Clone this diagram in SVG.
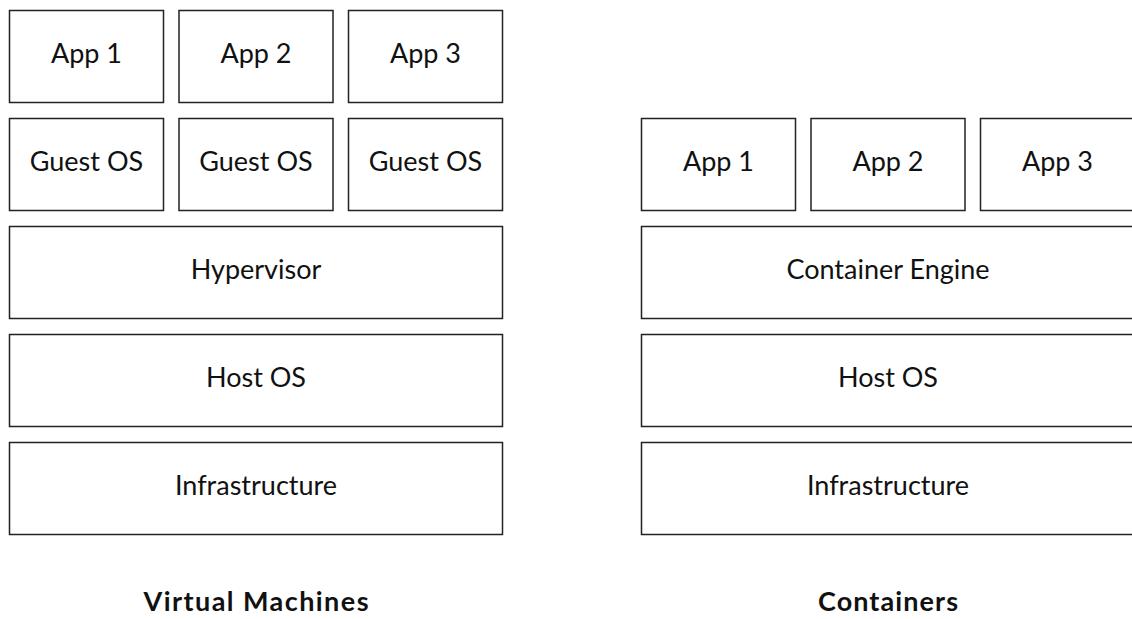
<svg xmlns="http://www.w3.org/2000/svg" width="1132" height="619" viewBox="0 0 1132 619">
<style>
rect{fill:#fff;stroke:#222;stroke-width:1.5}
text{font-family:Lato,"DejaVu Sans",sans-serif;font-size:27px;fill:#111;text-anchor:middle}
.t{font-weight:bold;font-size:27px}
</style>
<rect x="0" y="0" width="1132" height="619" style="fill:#fff;stroke:none"/>
<g id="vm-app1"><rect x="9.5" y="10.5" width="154" height="92"/><text x="86.5" y="63">App 1</text></g>
<g id="vm-app2"><rect x="179" y="10.5" width="154" height="92"/><text x="256" y="63">App 2</text></g>
<g id="vm-app3"><rect x="348.5" y="10.5" width="154" height="92"/><text x="425.5" y="63">App 3</text></g>
<g id="vm-guest1"><rect x="9.5" y="118.5" width="154" height="92"/><text x="86.5" y="171">Guest OS</text></g>
<g id="vm-guest2"><rect x="179" y="118.5" width="154" height="92"/><text x="256" y="171">Guest OS</text></g>
<g id="vm-guest3"><rect x="348.5" y="118.5" width="154" height="92"/><text x="425.5" y="171">Guest OS</text></g>
<g id="vm-hypervisor"><rect x="9.5" y="226.5" width="493" height="92"/><text x="256" y="279">Hypervisor</text></g>
<g id="vm-hostos"><rect x="9.5" y="334.5" width="493" height="92"/><text x="256" y="387">Host OS</text></g>
<g id="vm-infra"><rect x="9.5" y="442.5" width="493" height="92"/><text x="256" y="495">Infrastructure</text></g>
<g id="vm-title"><text class="t" x="256" y="611" textLength="225" lengthAdjust="spacing">Virtual Machines</text></g>
<g id="c-app1"><rect x="641.5" y="118.5" width="154" height="92"/><text x="718.5" y="171">App 1</text></g>
<g id="c-app2"><rect x="811" y="118.5" width="154" height="92"/><text x="888" y="171">App 2</text></g>
<g id="c-app3"><rect x="980.5" y="118.5" width="154" height="92"/><text x="1057.5" y="171">App 3</text></g>
<g id="c-engine"><rect x="641.5" y="226.5" width="493" height="92"/><text x="888" y="279">Container Engine</text></g>
<g id="c-hostos"><rect x="641.5" y="334.5" width="493" height="92"/><text x="888" y="387">Host OS</text></g>
<g id="c-infra"><rect x="641.5" y="442.5" width="493" height="92"/><text x="888" y="495">Infrastructure</text></g>
<g id="c-title"><text class="t" x="888" y="611" textLength="140" lengthAdjust="spacing">Containers</text></g>
<g id="connectors"></g>
</svg>
